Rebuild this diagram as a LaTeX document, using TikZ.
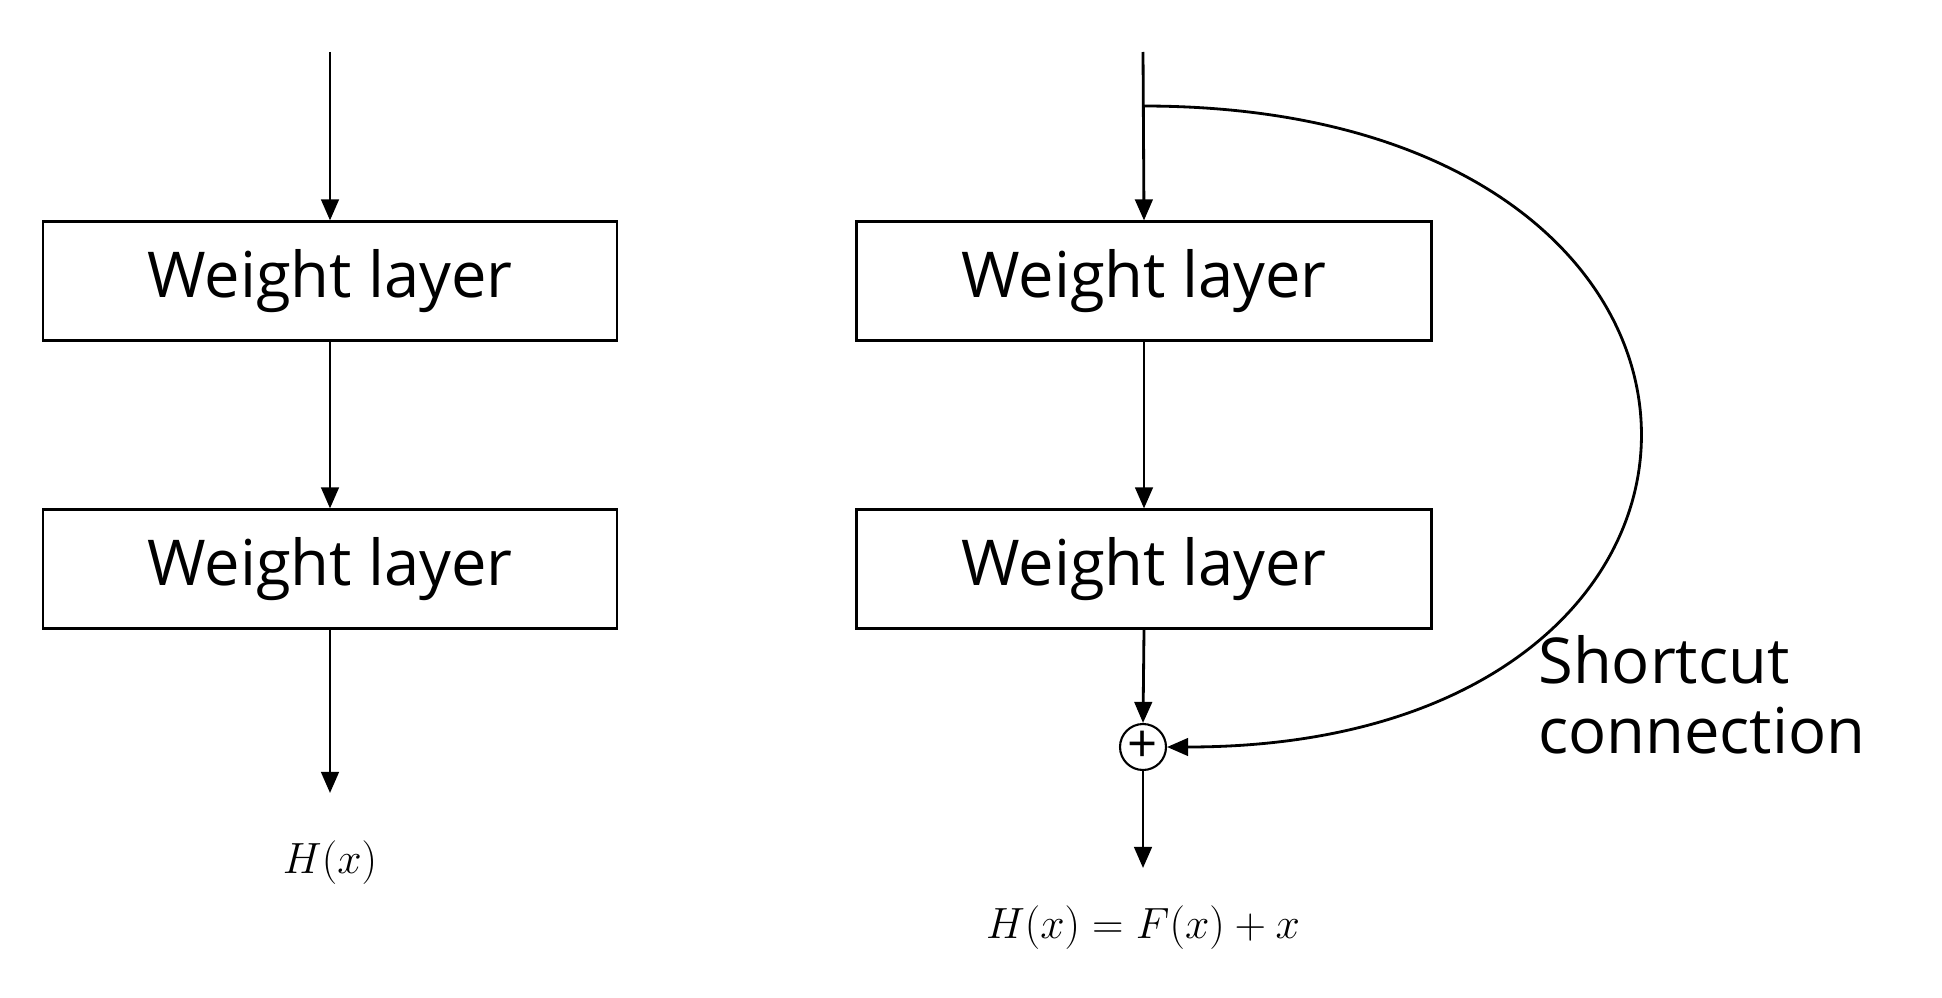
\documentclass[tikz,border=0pt]{standalone}
\usepackage{fontspec}
\setmainfont{Open Sans}
\usetikzlibrary{arrows.meta}
\begin{document}
\begin{tikzpicture}[x=0.02cm,y=0.02cm,
  box/.style={draw,line width=1.2pt,minimum width=574\pgflinewidth,inner sep=0pt,font=\fontsize{36}{40}\selectfont},
  arr/.style={line width=1.6pt,-{Triangle[length=12pt,width=10pt]}},
  lbl/.style={font=\fontsize{36}{40}\selectfont}]
\useasboundingbox (0,0) rectangle (1942,-997);
\tikzset{wbox/.style={draw,line width=1.2pt,font=\fontsize{36}{40}\selectfont}}
% left
\coordinate (lt) at (330,-52);
\node[wbox,minimum width=574*0.02cm,minimum height=119*0.02cm] (l1) at (330,-281) {Weight layer};
\node[wbox,minimum width=574*0.02cm,minimum height=119*0.02cm] (l2) at (330,-569) {Weight layer};
\node[font=\fontsize{30}{34}\selectfont] (lh) at (330,-863) {$H(x)$};
\draw[arr] (lt) -- (l1.north);
\draw[arr] (l1.south) -- (l2.north);
\draw[arr] (l2.south) -- (330,-793);
% right
\coordinate (rt) at (1143,-52);
\coordinate (rs) at (1143,-106);
\node[wbox,minimum width=575*0.02cm,minimum height=119*0.02cm] (r1) at (1144,-281) {Weight layer};
\node[wbox,minimum width=575*0.02cm,minimum height=119*0.02cm] (r2) at (1144,-569) {Weight layer};
\node[circle,draw,line width=1.2pt,minimum size=46*0.02cm,inner sep=0pt,font=\fontsize{30}{34}\selectfont] (plus) at (1143,-747) {+};
\node[font=\fontsize{30}{34}\selectfont] (rh) at (1143,-928) {$H(x)=F(x)+x$};
\coordinate (rhe) at (1143,-868);
\draw[arr] (rt) -- (r1.north);
\draw[arr] (r1.south) -- (r2.north);
\draw[arr] (r2.south) -- (plus.north);
\draw[arr] (plus.south) -- (rhe);
\draw[arr] (rs) .. controls (1800,-106) and (1800,-747) .. (plus.east);
\node[lbl,anchor=west,align=left,inner sep=0pt] (sc) at (1538,-695) {Shortcut\\connection};
\end{tikzpicture}
\end{document}
